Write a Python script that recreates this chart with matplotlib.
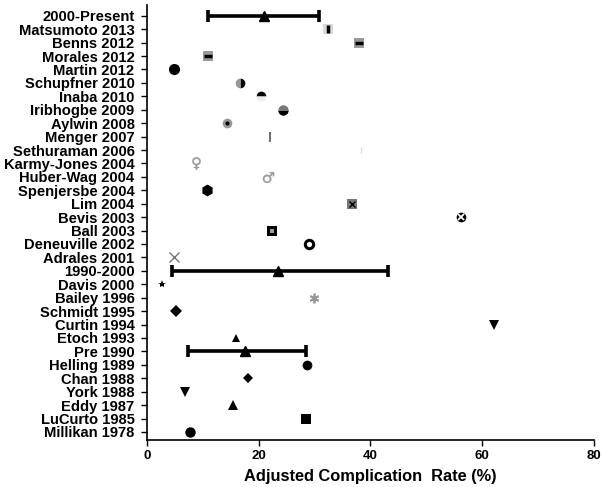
import matplotlib.pyplot as plt

plt.rcParams['font.family'] = ['Liberation Sans', 'DejaVu Sans']
plt.rcParams['font.weight'] = 'bold'

# studies, top to bottom
studies = ["2000-Present", "Matsumoto 2013", "Benns 2012", "Morales 2012", "Martin 2012",
           "Schupfner 2010", "Inaba 2010", "Iribhogbe 2009", "Aylwin 2008", "Menger 2007",
           "Sethuraman 2006", "Karmy-Jones 2004", "Huber-Wag 2004", "Spenjersbe 2004",
           "Lim 2004", "Bevis 2003", "Ball 2003", "Deneuville 2002", "Adrales 2001",
           "1990-2000", "Davis 2000", "Bailey 1996", "Schmidt 1995", "Curtin 1994",
           "Etoch 1993", "Pre 1990", "Helling 1989", "Chan 1988", "York 1988",
           "Eddy 1987", "LuCurto 1985", "Millikan 1978"]
rates = [20.9, 32.4, 37.9, 10.9, 4.8,
         16.6, 20.4, 24.3, 14.3, 22.0,
         38.3, 8.8, 21.6, 10.7,
         36.7, 56.2, 22.4, 29.0, 4.8,
         23.4, 2.7, 29.9, 5.2, 62.1,
         15.9, 17.5, 28.6, 18.1, 6.8,
         15.4, 28.4, 7.7]

# pooled estimates with their intervals
pooled = ["2000-Present", "1990-2000", "Pre 1990"]
ci_low = [10.9, 4.5, 7.3]
ci_high = [30.7, 43.1, 28.4]

G = '#999999'
LG = '#d9d9d9'
# marker layers per study: (marker, size, face, edge, fillstyle, alt face, edge width)
styles = {
    "Matsumoto 2013": [('s', 7, LG, LG, 'full', None, 0), ('|', 6, 'k', 'k', 'full', None, 2.5)],
    "Benns 2012": [('s', 7.5, G, G, 'full', None, 0), ('_', 6, 'k', 'k', 'full', None, 2.5)],
    "Morales 2012": [('s', 7.5, G, G, 'full', None, 0), ('_', 6, 'k', 'k', 'full', None, 2.5)],
    "Martin 2012": [('o', 8, 'k', 'k', 'full', None, 0)],
    "Schupfner 2010": [('o', 7, 'k', 'none', 'right', G, 0)],
    "Inaba 2010": [('o', 7, 'k', 'none', 'top', '#eeeeee', 0)],
    "Iribhogbe 2009": [('o', 7.5, 'k', 'none', 'bottom', '#777777', 0)],
    "Aylwin 2008": [('o', 7, G, G, 'full', None, 0), ('o', 3, 'k', 'k', 'full', None, 0)],
    "Menger 2007": [('|', 7, '#555555', '#555555', 'full', None, 1.2)],
    "Sethuraman 2006": [('|', 5, '#dddddd', '#dddddd', 'full', None, 1)],
    "Karmy-Jones 2004": [('$\u2640$', 9, G, G, 'full', None, 0.3)],
    "Huber-Wag 2004": [('$\u2642$', 8, G, G, 'full', None, 0.3)],
    "Spenjersbe 2004": [('h', 8.5, 'k', 'k', 'full', None, 0)],
    "Lim 2004": [('s', 7.5, '#777777', '#777777', 'full', None, 0), ('x', 5, 'k', 'k', 'full', None, 1)],
    "Bevis 2003": [('o', 7, 'k', 'k', 'full', None, 0), ('x', 4.5, 'w', 'w', 'full', None, 1.3)],
    "Ball 2003": [('s', 7.5, 'k', 'k', 'full', None, 0), ('s', 3, G, G, 'full', None, 0)],
    "Deneuville 2002": [('o', 6, 'w', 'k', 'full', None, 2.2)],
    "Adrales 2001": [('x', 7, 'w', '#777777', 'full', None, 1)],
    "Davis 2000": [('*', 6, 'k', 'k', 'full', None, 0)],
    "Bailey 1996": [((6, 2, 0), 7, G, G, 'full', None, 1.3)],
    "Schmidt 1995": [('D', 6, 'k', 'k', 'full', None, 0)],
    "Curtin 1994": [('v', 7.5, 'k', 'k', 'full', None, 0)],
    "Etoch 1993": [('^', 5.5, 'k', 'k', 'full', None, 0)],
    "Helling 1989": [('o', 7, 'k', 'k', 'full', None, 0)],
    "Chan 1988": [('D', 5, 'k', 'k', 'full', None, 0)],
    "York 1988": [('v', 7.5, 'k', 'k', 'full', None, 0)],
    "Eddy 1987": [('^', 7.5, 'k', 'k', 'full', None, 0)],
    "LuCurto 1985": [('s', 7.5, 'k', 'k', 'full', None, 0)],
    "Millikan 1978": [('o', 7.5, 'k', 'k', 'full', None, 0)],
}

n = len(studies)
ypos = [n - 1 - i for i in range(n)]

fig = plt.figure(figsize=(6.04, 4.87), dpi=100)
ax = fig.add_axes([0.2434, 0.0965, 0.74, 0.8932])

for name, lo, hi in zip(pooled, ci_low, ci_high):
    i = studies.index(name)
    r = rates[i]
    ax.errorbar(r, ypos[i], xerr=[[r - lo], [hi - r]], fmt='^', color='k',
                ms=7.5, elinewidth=2.6, capsize=4, capthick=2.6)

for i, name in enumerate(studies):
    if name not in styles:
        continue
    for mk, ms, fc, ec, fs, alt, mew in styles[name]:
        kw = dict(marker=mk, ms=ms, mfc=fc, mec=ec, mew=mew, fillstyle=fs, ls='none')
        if alt is not None:
            kw['markerfacecoloralt'] = alt
        ax.plot(rates[i], ypos[i], **kw)

ax.set_xlim(0, 80)
ax.set_ylim(-0.6, n - 0.2)
ax.set_xticks([0, 20, 40, 60, 80])
ax.set_yticks(ypos)
ax.set_yticklabels(studies, fontsize=10.6, fontweight='bold')
ax.tick_params(axis='x', labelsize=9.5, length=4, width=1)
ax.tick_params(axis='y', length=4, width=1, pad=5)
for lab in ax.get_xticklabels():
    lab.set_fontweight('bold')
ax.set_xlabel('Adjusted Complication  Rate (%)', fontsize=11.8, fontweight='bold', labelpad=5)
ax.spines['top'].set_visible(False)
ax.spines['right'].set_visible(False)
ax.spines['left'].set_linewidth(1.2)
ax.spines['bottom'].set_linewidth(1.2)

fig.savefig('out.png', dpi=100)
